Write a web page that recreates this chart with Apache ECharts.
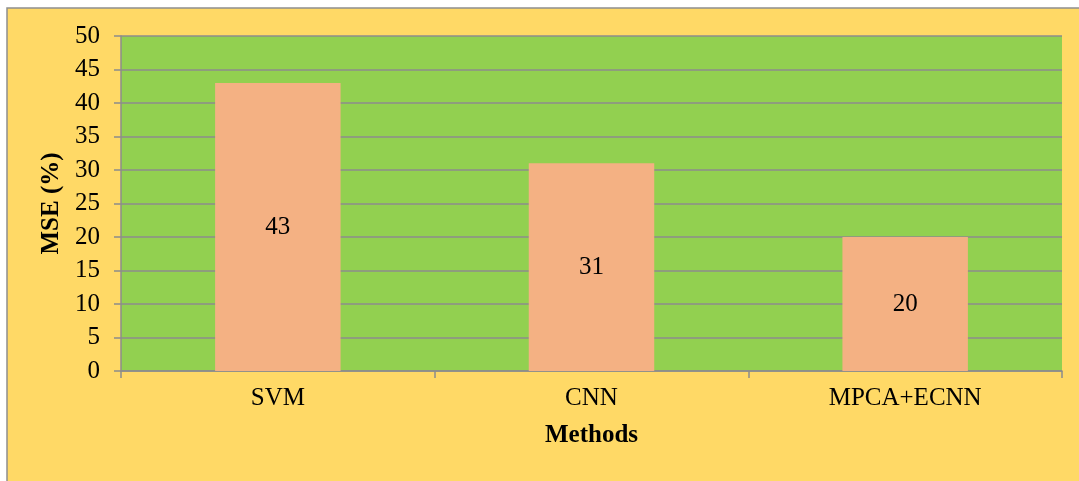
<!DOCTYPE html>
<html>
<head>
<meta charset="utf-8">
<script src="https://cdn.jsdelivr.net/npm/echarts@6/dist/echarts.min.js"></script>
<style>
  html, body { margin: 0; padding: 0; background: #ffffff; }
  #chart { width: 1079px; height: 481px; }
</style>
</head>
<body>
<div id="chart"></div>
<script>
// 数据
const methods = ['SVM', 'CNN', 'MPCA+ECNN'];
const mseValues = [43, 31, 20];

const font = '"Liberation Serif", "Times New Roman", serif';
const gridGray = '#8c8c8c';

const chart = echarts.init(document.getElementById('chart'));
chart.setOption({
  animation: false,
  backgroundColor: '#ffffff',
  graphic: [
    {
      // 外框 (只看到左边和上边)
      type: 'rect',
      z: -10,
      shape: { x: 7, y: 8, width: 1100, height: 500 },
      style: { fill: '#FFD966', stroke: '#8f8f8f', lineWidth: 1.5 }
    }
  ],
  grid: {
    left: 121,
    top: 36,
    right: 17,
    bottom: 110,
    show: true,
    backgroundColor: '#92D050',
    borderWidth: 0
  },
  xAxis: {
    type: 'category',
    data: methods,
    name: 'Methods',
    nameLocation: 'middle',
    nameGap: 52,
    nameTextStyle: { fontFamily: font, fontSize: 25, fontWeight: 'bold', color: '#000' },
    axisLine: { lineStyle: { color: gridGray, width: 1.5 } },
    axisTick: { show: true, alignWithLabel: false, length: 7, lineStyle: { color: gridGray, width: 1.5 } },
    axisLabel: { fontFamily: font, fontSize: 25, color: '#000', margin: 15 }
  },
  yAxis: {
    type: 'value',
    min: 0,
    max: 50,
    interval: 5,
    name: 'MSE (%)',
    nameLocation: 'middle',
    nameGap: 57,
    nameTextStyle: { fontFamily: font, fontSize: 25, fontWeight: 'bold', color: '#000' },
    axisLine: { show: true, lineStyle: { color: gridGray, width: 1.5 } },
    axisTick: { show: true, length: 7, lineStyle: { color: gridGray, width: 1.5 } },
    axisLabel: { fontFamily: font, fontSize: 25, color: '#000', margin: 21 },
    splitLine: { lineStyle: { color: gridGray, width: 1.5 } }
  },
  series: [
    {
      type: 'bar',
      data: mseValues,
      barWidth: '40%',
      itemStyle: { color: '#F4B183' },
      label: {
        show: true,
        position: 'inside',
        fontFamily: font,
        fontSize: 25,
        color: '#000'
      }
    }
  ]
});
</script>
</body>
</html>
